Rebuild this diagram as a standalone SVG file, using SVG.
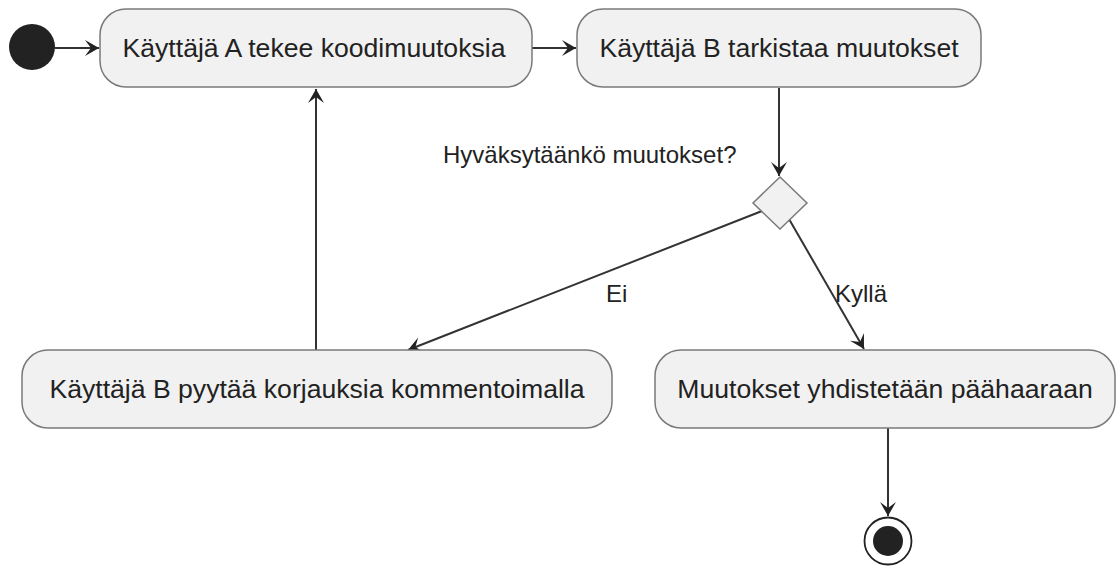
<svg xmlns="http://www.w3.org/2000/svg" width="1120" height="568" viewBox="0 0 1120 568">
<defs>
<style>
.node{fill:#f1f1f1;stroke:#7a7a7a;stroke-width:1.5}
.t{font-family:"Liberation Sans",Arial,sans-serif;font-size:26.6px;fill:#222;text-anchor:middle}
.lbl{font-family:"Liberation Sans",Arial,sans-serif;font-size:24px;fill:#222}
.edge{fill:none;stroke:#333;stroke-width:2}
</style>
<marker id="arr" viewBox="-15 -9 16 18" refX="0" refY="0" markerWidth="16" markerHeight="18" markerUnits="userSpaceOnUse" orient="auto">
<path d="M0,0 L-14,-8 L-8,0 L-14,8 Z" fill="#222"/>
</marker>
</defs>
<rect width="1120" height="568" fill="#ffffff"/>
<g id="connectors">
<line class="edge" x1="55" y1="48" x2="99" y2="48" marker-end="url(#arr)"/>
<line class="edge" x1="532" y1="48" x2="576" y2="48" marker-end="url(#arr)"/>
<line class="edge" x1="779" y1="88" x2="779" y2="176" marker-end="url(#arr)"/>
<line class="edge" x1="762" y1="211" x2="408" y2="350" marker-end="url(#arr)"/>
<line class="edge" x1="789" y1="219" x2="864" y2="349" marker-end="url(#arr)"/>
<line class="edge" x1="316" y1="350" x2="316" y2="89" marker-end="url(#arr)"/>
<line class="edge" x1="888" y1="428" x2="888" y2="516" marker-end="url(#arr)"/>
<text class="lbl" x="443" y="163">Hyväksytäänkö muutokset?</text>
<text class="lbl" x="606" y="302">Ei</text>
<text class="lbl" x="835" y="302">Kyllä</text>
</g>
<g id="start">
<circle cx="32" cy="47" r="23" fill="#222"/>
</g>
<g id="nodeA">
<rect class="node" x="100" y="9" width="432" height="78" rx="26"/>
<text class="t" x="314" y="57">Käyttäjä A tekee koodimuutoksia</text>
</g>
<g id="nodeB">
<rect class="node" x="577" y="9" width="404" height="78" rx="26"/>
<text class="t" x="779" y="57">Käyttäjä B tarkistaa muutokset</text>
</g>
<g id="decision">
<polygon class="node" points="780,177 807,203 780,229 753,203"/>
</g>
<g id="nodeC">
<rect class="node" x="22" y="350" width="590" height="78" rx="26"/>
<text class="t" x="317" y="398">Käyttäjä B pyytää korjauksia kommentoimalla</text>
</g>
<g id="nodeD">
<rect class="node" x="655" y="350" width="460" height="78" rx="26"/>
<text class="t" x="885" y="398">Muutokset yhdistetään päähaaraan</text>
</g>
<g id="end">
<circle cx="888" cy="541" r="23.5" fill="#fff" stroke="#222" stroke-width="1.8"/>
<circle cx="888" cy="541" r="15" fill="#222"/>
</g>
</svg>
